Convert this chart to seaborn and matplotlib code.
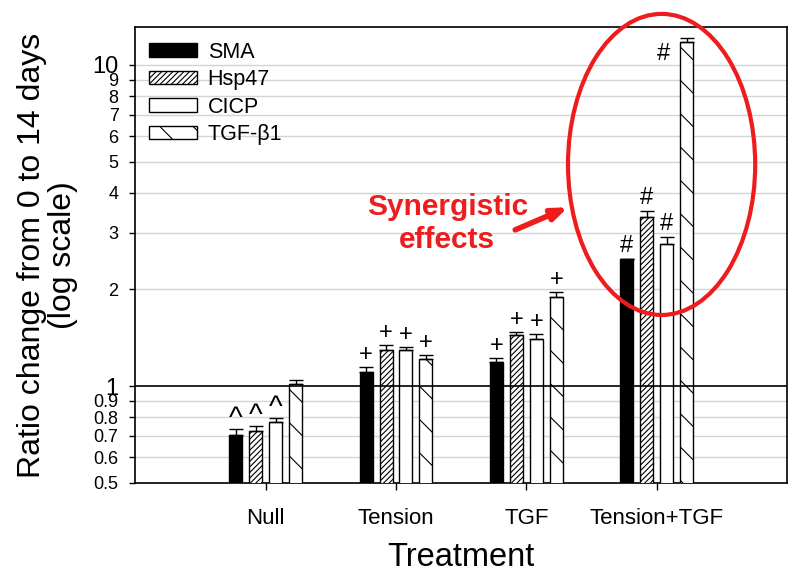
"""Ratio change of fibroblast markers from day 0 to day 14, log-scale bar chart."""

import matplotlib
matplotlib.use("Agg")

import matplotlib.pyplot as plt
import pandas as pd
import seaborn as sns
from matplotlib.patches import Ellipse

# ---------------------------------------------------------------------------
# Data
# ---------------------------------------------------------------------------

treatments = ["Null", "Tension", "TGF", "Tension+TGF"]
markers = ["SMA", "Hsp47", "CICP", "TGF-β1"]

sma = [0.705, 1.105, 1.187, 2.48]
sma_err = [0.030, 0.041, 0.035, 0.012]
hsp47 = [0.725, 1.30, 1.44, 3.35]
hsp47_err = [0.025, 0.040, 0.030, 0.17]
cicp = [0.773, 1.30, 1.40, 2.78]
cicp_err = [0.023, 0.020, 0.050, 0.14]
tgfb1 = [1.015, 1.213, 1.90, 11.8]
tgfb1_err = [0.030, 0.037, 0.060, 0.30]

# significance marks, one row per treatment, one entry per marker
sig_marks = [
    ["^", "^", "^", ""],
    ["+", "+", "+", "+"],
    ["+", "+", "+", "+"],
    ["#", "#", "#", "#"],
]

y_ticks = [0.5, 0.6, 0.7, 0.8, 0.9, 1, 2, 3, 4, 5, 6, 7, 8, 9, 10]
y_tick_labels = ["0.5", "0.6", "0.7", "0.8", "0.9", "1",
                 "2", "3", "4", "5", "6", "7", "8", "9", "10"]

_RED = "#ee1c1c"
_HATCHES = {"SMA": "", "Hsp47": "//////", "CICP": "", "TGF-β1": "\\"}
_COLORS = {"SMA": "black", "Hsp47": "white", "CICP": "white", "TGF-β1": "white"}
_MARK_SIZE = {"^": 21, "+": 17, "#": 17}

# ---------------------------------------------------------------------------
# Build long-form table
# ---------------------------------------------------------------------------

values = {"SMA": sma, "Hsp47": hsp47, "CICP": cicp, "TGF-β1": tgfb1}
errors = {"SMA": sma_err, "Hsp47": hsp47_err, "CICP": cicp_err, "TGF-β1": tgfb1_err}

rows = []
for m in markers:
    for t, v in zip(treatments, values[m]):
        rows.append({"Treatment": t, "Marker": m, "Ratio": v})
df = pd.DataFrame(rows)

# ---------------------------------------------------------------------------
# Plot
# ---------------------------------------------------------------------------

sns.set_style("white")
plt.rcParams["font.family"] = ["Liberation Sans", "DejaVu Sans"]
plt.rcParams["hatch.linewidth"] = 0.8
plt.rcParams["hatch.color"] = "black"
for key in ["text.color", "axes.labelcolor", "xtick.color", "ytick.color"]:
    plt.rcParams[key] = "black"

fig = plt.figure(figsize=(8, 5.79), dpi=100)
ax = fig.add_axes([0.169, 0.166, 0.815, 0.787])
ax.set_yscale("log")

sns.barplot(
    data=df,
    x="Treatment",
    y="Ratio",
    hue="Marker",
    order=treatments,
    hue_order=markers,
    palette=_COLORS,
    width=0.612,
    gap=0.35,
    errorbar=None,
    edgecolor="black",
    linewidth=1,
    legend=False,
    ax=ax,
)

bar_containers = list(ax.containers)
for m, cont in zip(markers, bar_containers):
    for patch in cont.patches:
        patch.set_hatch(_HATCHES[m])
        patch.set_facecolor(_COLORS[m])
        patch.set_edgecolor("black")
        patch.set_zorder(3)

ax.set_ylim(0.5, 13.1)
ax.set_xlim(-1.0, 4.0)

# error bars (upper only) and significance marks
for j, (m, cont) in enumerate(zip(markers, bar_containers)):
    for i, patch in enumerate(cont.patches):
        x = patch.get_x() + patch.get_width() / 2
        top = values[m][i]
        err = errors[m][i]
        ax.errorbar(
            x, top, yerr=[[0], [err]], fmt="none", ecolor="black",
            elinewidth=1, capsize=4.7, capthick=1, zorder=4,
        )
        mark = sig_marks[i][j]
        if not mark:
            continue
        size = _MARK_SIZE[mark]
        if (top + err) * 1.15 > ax.get_ylim()[1]:
            ax.annotate(mark, (x, top + err), xytext=(-17, -11),
                        textcoords="offset points", ha="center", va="center",
                        fontsize=size)
        else:
            dy = -3 if mark == "^" else 1.0
            ax.annotate(mark, (x, top + err), xytext=(0, dy),
                        textcoords="offset points", ha="center", va="bottom",
                        fontsize=size)

# grid and reference line
ax.set_yticks(y_ticks)
ax.set_yticklabels(y_tick_labels)
ax.yaxis.set_minor_locator(plt.NullLocator())
for y in y_ticks[1:]:
    if y == 1:
        continue
    ax.axhline(y, color="#d4d4d4", lw=1, zorder=0)
ax.axhline(1, color="black", lw=1.2, zorder=5)

for lab, val in zip(ax.get_yticklabels(), y_ticks):
    lab.set_fontsize(17 if val in (1, 10) else 13)

ax.tick_params(axis="y", direction="out", length=4, width=1, pad=8,
               left=True, color="black")
ax.tick_params(axis="x", direction="out", length=5, width=1, pad=13,
               bottom=True, labelsize=16, color="black")

for side in ["left", "right", "top", "bottom"]:
    ax.spines[side].set_visible(True)
    ax.spines[side].set_color("black")
    ax.spines[side].set_linewidth(1.2)

ax.set_xlabel("Treatment", fontsize=23.5)
ax.xaxis.set_label_coords(0.5, -0.13)
ax.set_ylabel("Ratio change from 0 to 14 days\n(log scale)", fontsize=23,
              multialignment="center", linespacing=1.05)
ax.yaxis.set_label_coords(-0.087, 0.5)

ax.legend(
    handles=[c.patches[0] for c in bar_containers],
    labels=markers,
    loc="upper left",
    bbox_to_anchor=(0.021, 0.968),
    frameon=False,
    fontsize=15.5,
    borderpad=0,
    borderaxespad=0,
    handlelength=2.23,
    handleheight=0.6,
    handletextpad=0.5,
    labelspacing=0.3,
)

# annotation: red ellipse, arrow and label
fig.patches.append(Ellipse((0.827, 0.716), 0.234, 0.520, transform=fig.transFigure,
                           fill=False, edgecolor=_RED, lw=3, zorder=10))
fig.text(0.559, 0.614, "Synergistic\neffects", color=_RED, fontsize=21.5,
         fontweight="bold", ha="center", va="center", linespacing=1.22)
ax.annotate(
    "", xy=(0.710, 0.642), xycoords="figure fraction",
    xytext=(0.644, 0.603), textcoords="figure fraction",
    arrowprops=dict(arrowstyle="-|>,head_length=0.9,head_width=0.35",
                    color=_RED, lw=4, shrinkA=0, shrinkB=0),
    annotation_clip=False,
)

fig.savefig("out.png", dpi=100)
